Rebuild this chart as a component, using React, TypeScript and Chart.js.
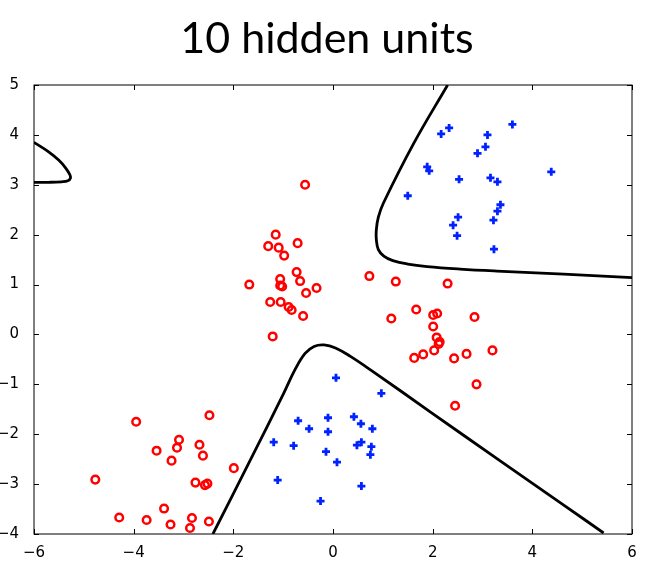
import { useEffect, useRef } from "react";
import { Chart, registerables } from "chart.js";

Chart.register(...registerables);

const chartTitle = "10 hidden units";

// class 0: red open circles
const redX = [
  -0.56, -1.15, -1.3, -1.09, -0.98, -0.71, -1.68, -1.06, -1.06, -1.02, -0.73, -0.66, -0.33, -0.54, -1.26, -1.05, -0.89, -0.83, -0.6, -1.21,
  -3.95, -2.48, -3.09, -3.13, -3.54, -3.24, -2.68, -2.61, -1.99, -4.77, -2.76, -2.57, -2.52, -3.39, -4.29, -3.74, -3.26, -2.83, -2.87, -2.49,
  0.73, 1.26, 2.3, 1.67, 2.01, 2.09, 1.17, 2.84, 2.01, 2.08, 2.14, 2.12, 2.03, 1.63, 1.81, 2.43, 2.68, 3.2, 2.88, 2.45,
];
const redY = [
  3.0, 2.0, 1.77, 1.74, 1.58, 1.83, 1.0, 1.11, 0.98, 0.96, 1.25, 1.07, 0.93, 0.83, 0.65, 0.65, 0.55, 0.49, 0.37, -0.04,
  -1.75, -1.62, -2.11, -2.27, -2.33, -2.53, -2.21, -2.43, -2.68, -2.91, -2.97, -3.02, -2.99, -3.49, -3.67, -3.72, -3.81, -3.68, -3.88, -3.75,
  1.17, 1.06, 1.02, 0.5, 0.39, 0.42, 0.32, 0.35, 0.16, -0.06, -0.15, -0.19, -0.32, -0.47, -0.4, -0.48, -0.39, -0.32, -1.0, -1.43,
];

// class 1: blue plus markers
const blueX = [
  3.6, 2.33, 2.17, 3.1, 3.06, 2.9, 1.89, 1.93, 2.53, 3.16, 3.3, 4.38, 1.5, 3.36, 3.3, 2.51, 2.41, 3.22, 2.49, 3.23,
  0.06, -0.1, -0.7, -0.48, -0.1, -1.19, -0.79, -0.14, 0.08, -1.11, -0.25, 0.97, 0.42, 0.56, 0.79, 0.48, 0.57, 0.77, 0.75, 0.57,
];
const blueY = [
  4.21, 4.14, 4.02, 4.0, 3.76, 3.63, 3.36, 3.28, 3.11, 3.14, 3.06, 3.26, 2.78, 2.6, 2.47, 2.35, 2.19, 2.29, 1.98, 1.71,
  -0.87, -1.67, -1.73, -1.89, -1.95, -2.16, -2.23, -2.35, -2.56, -2.92, -3.34, -1.18, -1.65, -1.79, -1.89, -2.22, -2.16, -2.25, -2.41, -3.04,
];

// decision boundary pieces
const leftEdgeX = [-6, -5.72, -5.5, -5.36, -5.28, -5.27, -5.32, -5.45, -5.7, -6];
const leftEdgeY = [3.85, 3.67, 3.49, 3.33, 3.2, 3.13, 3.08, 3.06, 3.05, 3.05];

const upperEdgeX = [2.3, 1.62, 1.01, 0.91, 0.87, 0.87, 0.91, 1.02, 1.2, 1.5, 1.89, 2.55, 3.29, 4.63, 6.0];
const upperEdgeY = [5.0, 3.83, 2.63, 2.35, 2.1, 1.9, 1.7, 1.57, 1.48, 1.41, 1.36, 1.31, 1.27, 1.21, 1.14];

const lowerEdgeX = [-2.41, -1.66, -0.99, -0.76, -0.56, -0.38, -0.18, 0.05, 0.35, 0.81, 1.95, 3.29, 4.63, 5.43];
const lowerEdgeY = [-4.0, -2.52, -1.18, -0.7, -0.38, -0.24, -0.21, -0.27, -0.44, -0.75, -1.55, -2.49, -3.42, -3.98];

const zip = (xs: number[], ys: number[]) => xs.map((x, i) => ({ x, y: ys[i] }));
const minus = (v: number | string) => String(v).replace("-", "\u2212");

// matplotlib-style box with inward ticks on all four sides
const frameTicks = {
  id: "frameTicks",
  afterDatasetsDraw(chart: any) {
    const { ctx, chartArea, scales } = chart;
    const { left, right, top, bottom } = chartArea;
    const len = 5;
    ctx.save();
    ctx.strokeStyle = "#000";
    ctx.lineWidth = 1;
    ctx.beginPath();
    scales.x.ticks.forEach((t: any) => {
      const px = Math.round(scales.x.getPixelForValue(t.value)) + 0.5;
      ctx.moveTo(px, bottom);
      ctx.lineTo(px, bottom - len);
      ctx.moveTo(px, top);
      ctx.lineTo(px, top + len);
    });
    scales.y.ticks.forEach((t: any) => {
      const py = Math.round(scales.y.getPixelForValue(t.value)) + 0.5;
      ctx.moveTo(left, py);
      ctx.lineTo(left + len, py);
      ctx.moveTo(right, py);
      ctx.lineTo(right - len, py);
    });
    ctx.stroke();
    ctx.strokeRect(left, top, right - left, bottom - top);
    ctx.restore();
  },
};

const titlePlugin = {
  id: "bigTitle",
  afterDraw(chart: any) {
    const { ctx, chartArea } = chart;
    ctx.save();
    ctx.fillStyle = "#000";
    ctx.font = "43px Lato";
    ctx.textAlign = "center";
    ctx.textBaseline = "alphabetic";
    ctx.fillText(chartTitle, (chartArea.left + chartArea.right) / 2 - 6, 53);
    ctx.restore();
  },
};

export default function App() {
  const chartRef = useRef<HTMLCanvasElement>(null);
  const chartInstance = useRef<Chart | null>(null);

  useEffect(() => {
    document.body.style.margin = "0";
    if (!chartRef.current) return;
    if (chartInstance.current) {
      chartInstance.current.destroy();
    }
    const ctx = chartRef.current.getContext("2d");
    if (!ctx) return;

    const edge = (xs: number[], ys: number[]) => ({
      data: zip(xs, ys),
      showLine: true,
      borderColor: "#000",
      borderWidth: 2.8,
      pointRadius: 0,
      tension: 0.4,
      fill: false,
    });

    chartInstance.current = new Chart(ctx, {
      type: "scatter",
      data: {
        datasets: [
          {
            data: zip(redX, redY),
            pointStyle: "circle",
            pointRadius: 3.8,
            borderWidth: 2.5,
            borderColor: "#ff0000",
            backgroundColor: "rgba(0,0,0,0)",
          },
          {
            data: zip(blueX, blueY),
            pointStyle: "cross",
            pointRadius: 4,
            borderWidth: 2.8,
            borderColor: "#0022ff",
            backgroundColor: "#0022ff",
          },
          edge(leftEdgeX, leftEdgeY),
          edge(upperEdgeX, upperEdgeY),
          edge(lowerEdgeX, lowerEdgeY),
        ] as any,
      },
      options: {
        animation: false,
        responsive: false,
        layout: { padding: { top: 85, right: 40, left: 0, bottom: 0 } },
        plugins: {
          legend: { display: false },
          tooltip: { enabled: false },
          title: { display: false },
        },
        scales: {
          x: {
            type: "linear",
            min: -6,
            max: 6,
            grid: { display: false },
            border: { display: false },
            ticks: {
              stepSize: 2,
              padding: 2,
              color: "#000",
              font: { family: "DejaVu Sans", size: 15 },
              callback: (v: any) => minus(v),
            },
            afterFit: (s: any) => {
              s.height = 48;
            },
          },
          y: {
            type: "linear",
            min: -4,
            max: 5,
            grid: { display: false },
            border: { display: false },
            ticks: {
              stepSize: 1,
              padding: 7,
              color: "#000",
              font: { family: "DejaVu Sans", size: 15 },
              callback: (v: any) => minus(v),
            },
            afterFit: (s: any) => {
              s.width = 34;
            },
          },
        },
      },
      plugins: [frameTicks, titlePlugin],
    });

    return () => {
      if (chartInstance.current) {
        chartInstance.current.destroy();
        chartInstance.current = null;
      }
    };
  }, []);

  return (
    <div style={{ width: 672, height: 582, background: "#fff" }}>
      <canvas ref={chartRef} width={672} height={582} />
    </div>
  );
}
